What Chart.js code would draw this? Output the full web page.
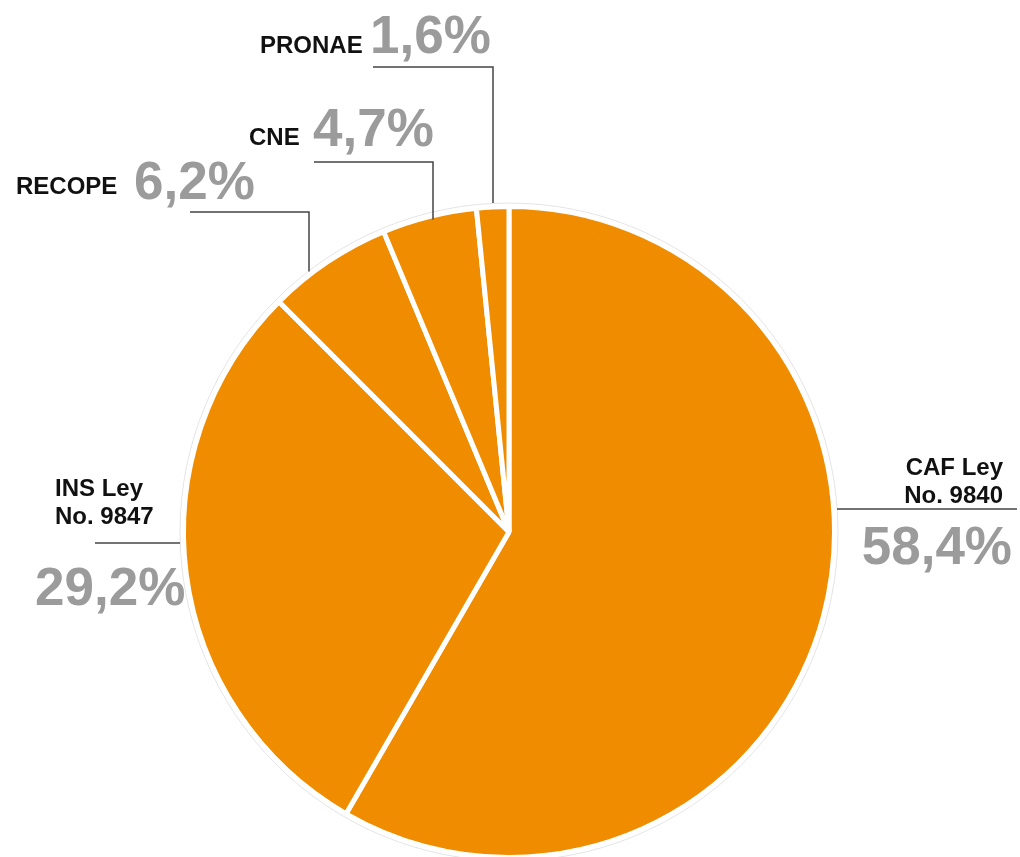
<!DOCTYPE html>
<html>
<head>
<meta charset="utf-8">
<script src="https://cdn.jsdelivr.net/npm/chart.js@4"></script>
<style>
  html, body { margin: 0; padding: 0; background: #fff; }
  #wrap { width: 1020px; height: 857px; position: relative; }
</style>
</head>
<body>
<div id="wrap"><canvas id="pie-chart"></canvas></div>
<script>
// data
var names = [["CAF Ley", "No. 9840"], ["INS Ley", "No. 9847"], ["RECOPE"], ["CNE"], ["PRONAE"]];
var shares = [58.4, 29.2, 6.2, 4.7, 1.6];

var orange = "#f08c00";
var greyText = "#9b9b9b";

// where each callout goes (layout only)
var callouts = [
    { align: "right", nameX: 1003, nameY: [475, 503], pctX: 1012, pctY: 564, line: [[837, 509], [1017, 509]] },
    { align: "left", nameX: 55, nameY: [496, 524], pctX: 35, pctY: 605, line: [[95, 543], [180, 543]] },
    { align: "left", nameX: 16, nameY: [194], pctX: 134, pctY: 199, line: [[190, 212], [309, 212]], drop: 0 },
    { align: "left", nameX: 249, nameY: [145], pctX: 313, pctY: 146, line: [[314, 162], [433, 162]], drop: 7 },
    { align: "left", nameX: 260, nameY: [53], pctX: 370, pctY: 53, line: [[373, 67], [493, 67]], drop: -1 }
];

function fmt(v) {
    return v.toFixed(1).replace(".", ",") + "%";
}

var calloutPlugin = {
    id: "callouts",
    beforeDatasetsDraw: function(chart) {
        var arc = chart.getDatasetMeta(0).data[0];
        if (!arc) return;
        var ctx = chart.ctx;
        ctx.save();
        ctx.beginPath();
        ctx.arc(arc.x, arc.y, arc.outerRadius + 3.5, 0, Math.PI * 2);
        ctx.strokeStyle = "#e4e4e4";
        ctx.lineWidth = 1;
        ctx.stroke();
        ctx.restore();
    },
    afterDraw: function(chart) {
        var ctx = chart.ctx;
        var arcs = chart.getDatasetMeta(0).data;
        ctx.save();
        callouts.forEach(function(c, i) {
            var arc = arcs[i];
            // leader line
            ctx.beginPath();
            ctx.strokeStyle = "#444";
            ctx.lineWidth = 1.5;
            ctx.moveTo(c.line[0][0], c.line[0][1]);
            ctx.lineTo(c.line[1][0], c.line[1][1]);
            if (c.drop !== undefined) {
                var x = c.line[1][0];
                var r = arc.outerRadius + 3;
                var dx = x - arc.x;
                var yEdge = arc.y - Math.sqrt(r * r - dx * dx);
                ctx.lineTo(x, yEdge + c.drop);
            }
            ctx.stroke();

            // name
            ctx.textAlign = c.align;
            ctx.textBaseline = "alphabetic";
            ctx.fillStyle = "#111";
            ctx.font = "bold 24px 'Liberation Sans', Arial, sans-serif";
            names[i].forEach(function(t, k) {
                ctx.fillText(t, c.nameX, c.nameY[k]);
            });

            // percentage
            ctx.fillStyle = greyText;
            ctx.font = "bold 53px 'Liberation Sans', Arial, sans-serif";
            ctx.fillText(fmt(shares[i]), c.pctX, c.pctY);
        });
        ctx.restore();
    }
};

var pieChart;
var drawPie = function() {
    var ctx = document.getElementById("pie-chart").getContext("2d");

    pieChart = new Chart(ctx, {
        type: "pie",
        data: {
            labels: names.map(function(n) { return n.join(" "); }),
            datasets: [{
                data: shares,
                backgroundColor: orange,
                borderColor: "#ffffff",
                borderWidth: 5,
                hoverOffset: 0,
                offset: 0
            }]
        },
        options: {
            responsive: true,
            maintainAspectRatio: false,
            animation: false,
            radius: 325.5,
            layout: {
                padding: { left: 100, right: 102, top: 210, bottom: 3 }
            },
            plugins: {
                legend: { display: false },
                tooltip: { enabled: false }
            },
            events: []
        },
        plugins: [calloutPlugin]
    });
};

window.onload = drawPie;
</script>
</body>
</html>
